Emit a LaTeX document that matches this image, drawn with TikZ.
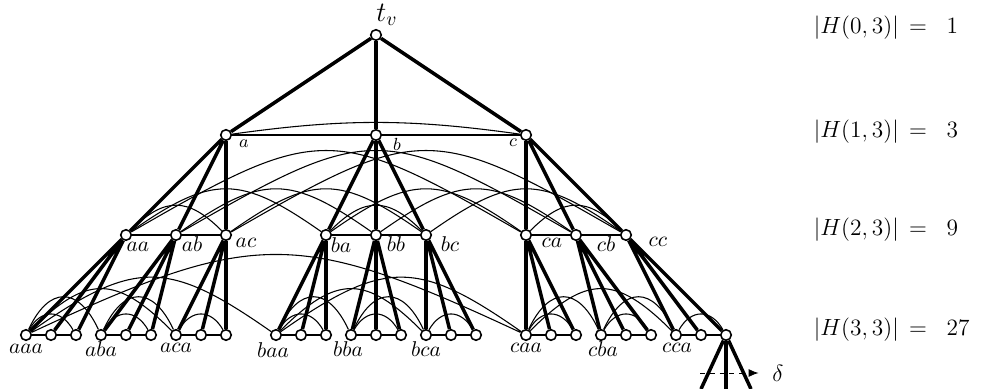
\documentclass[tikz,border=0pt]{standalone}
\usetikzlibrary{arrows.meta}
\tikzset{
	vtx/.style={circle,draw,fill=white,line width=0.8pt,inner sep=0pt,minimum size=0.19cm},
	tree/.style={line width=1.8pt},
	hedge/.style={line width=0.55pt},
	lbl/.style={inner sep=0pt},
	% arcs of the first and second level
	c300/.style={bend left=8},
	c100/.style={bend left=45,looseness=1.35},
	c200/.style={bend left=35,looseness=1.34},
	c400/.style={bend left=30,looseness=1.43},
	% arcs of the third level
	b50/.style={bend left=60,looseness=1.42},
	b75/.style={bend left=65,looseness=1.77},
	b150/.style={bend left=45,looseness=1.44},
	b250/.style={bend left=35,looseness=1.35},
	b500/.style={bend left=25,looseness=1.29}
}
\newcommand{\wlab}[1]{{\fontsize{11}{13}\selectfont$#1$}}

\begin{document}
\begin{tikzpicture}[x=0.45cm,y=0.45cm]
	\useasboundingbox (-15.04,-2.16) rectangle (24.44,13.4);
	%root and first level
	\path (0,12) node[vtx] (r) {}
		(-6,8) node[vtx] (a) {}
		(0,8) node[vtx] (b) {}
		(6,8) node[vtx] (c) {};
	%second level
	\path (-10,4) node[vtx] (aa) {}
		(-8,4) node[vtx] (ab) {}
		(-6,4) node[vtx] (ac) {}
		(-2,4) node[vtx] (ba) {}
		(0,4) node[vtx] (bb) {}
		(2,4) node[vtx] (bc) {}
		(6,4) node[vtx] (ca) {}
		(8,4) node[vtx] (cb) {}
		(10,4) node[vtx] (cc) {};
	%third level
	\path (-14,0) node[vtx] (aaa) {} (-13,0) node[vtx] (aab) {} (-12,0) node[vtx] (aac) {}
		(-11,0) node[vtx] (aba) {} (-10,0) node[vtx] (abb) {} (-9,0) node[vtx] (abc) {}
		(-8,0) node[vtx] (aca) {} (-7,0) node[vtx] (acb) {} (-6,0) node[vtx] (acc) {}
		(-4,0) node[vtx] (baa) {} (-3,0) node[vtx] (bab) {} (-2,0) node[vtx] (bac) {}
		(-1,0) node[vtx] (bba) {} (0,0) node[vtx] (bbb) {} (1,0) node[vtx] (bbc) {}
		(2,0) node[vtx] (bca) {} (3,0) node[vtx] (bcb) {} (4,0) node[vtx] (bcc) {}
		(6,0) node[vtx] (caa) {} (7,0) node[vtx] (cab) {} (8,0) node[vtx] (cac) {}
		(9,0) node[vtx] (cba) {} (10,0) node[vtx] (cbb) {} (11,0) node[vtx] (cbc) {}
		(12,0) node[vtx] (cca) {} (13,0) node[vtx] (ccb) {} (14,0) node[vtx] (ccc) {};

	%horizontal edges, level 1
	\draw[hedge] (a) -- (b) -- (c);
	\draw[hedge] (a) to[c300] (c);
	%horizontal edges, level 2
	\draw[hedge] (aa) -- (ab) -- (ac) (ba) -- (bb) -- (bc) (ca) -- (cb) -- (cc);
	\draw[hedge] (aa) to[c100] (ac) (ba) to[c100] (bc) (ca) to[c100] (cc);
	\draw[hedge] (aa) to[c200] (ba) (ab) to[c200] (bb) (ac) to[c200] (bc)
		(ba) to[c200] (ca) (bb) to[c200] (cb) (bc) to[c200] (cc);
	\draw[hedge] (aa) to[c400] (ca) (ab) to[c400] (cb) (ac) to[c400] (cc);
	%horizontal edges, level 3
	\draw[hedge] (aaa) -- (aab) -- (aac) (aba) -- (abb) -- (abc) (aca) -- (acb) -- (acc)
		(baa) -- (bab) -- (bac) (bba) -- (bbb) -- (bbc) (bca) -- (bcb) -- (bcc)
		(caa) -- (cab) -- (cac) (cba) -- (cbb) -- (cbc) (cca) -- (ccb) -- (ccc);
	\draw[hedge] (aaa) to[b50] (aac) (aba) to[b50] (abc) (aca) to[b50] (acc)
		(baa) to[b50] (bac) (bba) to[b50] (bbc) (bca) to[b50] (bcc)
		(caa) to[b50] (cac) (cba) to[b50] (cbc) (cca) to[b50] (ccc);
	\draw[hedge] (aaa) to[b75] (aba) (aba) to[b75] (aca) (aaa) to[b150] (aca)
		(baa) to[b75] (bba) (bba) to[b75] (bca) (baa) to[b150] (bca)
		(caa) to[b75] (cba) (cba) to[b75] (cca) (caa) to[b150] (cca);
	\draw[hedge] (aaa) to[b250] (baa) (baa) to[b250] (caa) (aaa) to[b500] (caa);

	%tree edges
	\draw[tree] (r) -- (a) (r) -- (b) (r) -- (c);
	\draw[tree] (a) -- (aa) (a) -- (ab) (a) -- (ac)
		(b) -- (ba) (b) -- (bb) (b) -- (bc)
		(c) -- (ca) (c) -- (cb) (c) -- (cc);
	\draw[tree] (aa) -- (aaa) (aa) -- (aab) (aa) -- (aac)
		(ab) -- (aba) (ab) -- (abb) (ab) -- (abc)
		(ac) -- (aca) (ac) -- (acb) (ac) -- (acc)
		(ba) -- (baa) (ba) -- (bab) (ba) -- (bac)
		(bb) -- (bba) (bb) -- (bbb) (bb) -- (bbc)
		(bc) -- (bca) (bc) -- (bcb) (bc) -- (bcc)
		(ca) -- (caa) (ca) -- (cab) (ca) -- (cac)
		(cb) -- (cba) (cb) -- (cbb) (cb) -- (cbc)
		(cc) -- (cca) (cc) -- (ccb) (cc) -- (ccc);

	%going on below ccc
	\coordinate (dn1) at (13,-2.16);
	\coordinate (dn2) at (14,-2.16);
	\coordinate (dn3) at (15,-2.16);
	\coordinate (ds) at (12.96,-1.52);
	\coordinate (de) at (15.3,-1.52);
	\draw[thin,dash pattern=on 2.5pt off 2.5pt,-{Latex[length=5pt,width=4pt]}] (ds) -- (de);
	\draw[tree] (ccc) -- (dn1) (ccc) -- (dn2) (ccc) -- (dn3);
	\node[lbl] (delta) at (16.08,-1.52) {\large$\delta$};

	%labels
	\node[lbl,anchor=south west] (tv) at ([yshift=1.5pt]r.north) {\Large$t_v$};
	\node[lbl] (la) at ([shift={(0.72,-0.36)}]a) {\small$a$};
	\node[lbl] (lb) at ([shift={(0.84,-0.36)}]b) {\small$b$};
	\node[lbl] (lc) at ([shift={(-0.52,-0.32)}]c) {\small$c$};
	\node[lbl] (laa) at ([shift={(0.48,-0.48)}]aa) {\wlab{aa}};
	\node[lbl] (lab) at ([shift={(0.64,-0.36)}]ab) {\wlab{ab}};
	\node[lbl] (lac) at ([shift={(0.8,-0.32)}]ac) {\wlab{ac}};
	\node[lbl] (lba) at ([shift={(0.6,-0.4)}]ba) {\wlab{ba}};
	\node[lbl] (lbb) at ([shift={(0.8,-0.36)}]bb) {\wlab{bb}};
	\node[lbl] (lbc) at ([shift={(0.96,-0.36)}]bc) {\wlab{bc}};
	\node[lbl] (lca) at ([shift={(1.04,-0.32)}]ca) {\wlab{ca}};
	\node[lbl] (lcb) at ([shift={(1.2,-0.36)}]cb) {\wlab{cb}};
	\node[lbl] (lcc) at ([shift={(1.28,-0.28)}]cc) {\wlab{cc}};
	\node[lbl] (laaa) at ([shift={(0,-0.56)}]aaa) {\wlab{aaa}};
	\node[lbl] (laba) at ([shift={(0,-0.56)}]aba) {\wlab{aba}};
	\node[lbl] (laca) at ([shift={(0,-0.52)}]aca) {\wlab{aca}};
	\node[lbl] (lbaa) at ([shift={(-0.12,-0.6)}]baa) {\wlab{baa}};
	\node[lbl] (lbba) at ([shift={(-0.12,-0.56)}]bba) {\wlab{bba}};
	\node[lbl] (lbca) at ([shift={(0,-0.56)}]bca) {\wlab{bca}};
	\node[lbl] (lcaa) at ([shift={(0,-0.52)}]caa) {\wlab{caa}};
	\node[lbl] (lcba) at ([shift={(0.08,-0.56)}]cba) {\wlab{cba}};
	\node[lbl] (lcca) at ([shift={(0.04,-0.5)}]cca) {\wlab{cca}};

	%sizes of the levels
	\node[lbl,anchor=west] (h0) at (17.5,12.28) {\large$|H(0,3)| \,=\;\; 1$};
	\node[lbl,anchor=west] (h1) at (17.5,8.12) {\large$|H(1,3)| \,=\;\; 3$};
	\node[lbl,anchor=west] (h2) at (17.5,4.2) {\large$|H(2,3)| \,=\;\; 9$};
	\node[lbl,anchor=west] (h3) at (17.5,0.2) {\large$|H(3,3)| \,=\;\; 27$};
\end{tikzpicture}
\end{document}
